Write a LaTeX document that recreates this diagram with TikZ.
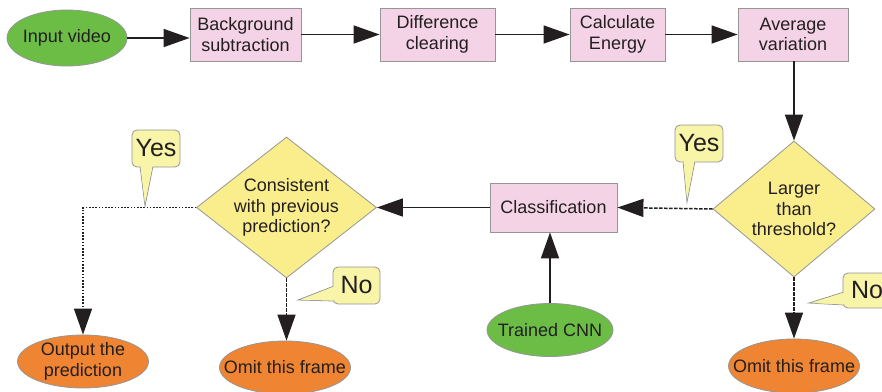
\documentclass[tikz,border=0pt]{standalone}
\usepackage{fontspec}
\setmainfont{Liberation Sans}
\usetikzlibrary{shapes.geometric,arrows.meta}
\definecolor{cgreen}{RGB}{108,189,69}
\definecolor{cpink}{RGB}{243,211,229}
\definecolor{cyell}{RGB}{249,238,139}
\definecolor{corange}{RGB}{239,133,50}
\definecolor{cbub}{RGB}{248,244,168}
\definecolor{cedge}{RGB}{150,150,150}
\definecolor{ctext}{RGB}{35,31,32}
\begin{document}
\begin{tikzpicture}[x=1pt,y=-1pt,
  txt/.style={font=\fontsize{18}{20.5}\selectfont, text=ctext, align=center},
  procbox/.style={draw=cedge, fill=cpink, line width=0.8pt, txt, inner sep=1pt, minimum height=53pt},
  ell/.style={ellipse, draw=cedge, line width=0.8pt, inner sep=0pt},
  dia/.style={diamond, draw=cedge, fill=cyell, line width=0.8pt, inner sep=0pt},
  lab/.style={txt},
  bubble/.style={draw=cedge, fill=cbub, line width=0.8pt, rounded corners=5pt,
     font=\fontsize{25}{25}\selectfont, text=ctext, inner sep=0pt, minimum width=48pt, minimum height=37pt},
  arr/.style={line width=1.5pt, draw=ctext, -{Triangle[length=26pt,width=18pt]}},
  dotl/.style={dash pattern=on 1.6pt off 1.6pt},
  dashl/.style={dash pattern=on 3.5pt off 1.5pt}
]
\useasboundingbox (0,0) rectangle (882,391);
\fill[white] (0,0) rectangle (882,391);

% top row
\node[ell, fill=cgreen, minimum width=120pt, minimum height=56pt, label={[lab]center:Input video}] (input) at (67,38) {};
\node[procbox, minimum width=111pt] (bg) at (245.5,34.5) {Background\\subtraction};
\node[procbox, minimum width=115pt] (diff) at (437.5,34.5) {Difference\\clearing};
\node[procbox, minimum width=95pt] (energy) at (617.5,34.5) {Calculate\\Energy};
\node[procbox, minimum width=110pt] (avg) at (793,34.5) {Average\\variation};

% middle row
\node[dia, minimum width=162pt, minimum height=136pt, label={[lab]center:Larger\\than\\threshold?}] (larger) at (794,209) {};
\node[procbox, minimum width=127pt, minimum height=49pt] (class) at (553.5,207.5) {Classification};
\node[dia, minimum width=180pt, minimum height=141pt, label={[lab]center:Consistent\\with previous\\prediction?}] (cons) at (286.5,207.5) {};

% bottom row
\node[ell, fill=cgreen, minimum width=126pt, minimum height=53pt, label={[lab]center:Trained CNN}] (cnn) at (550,330) {};
\node[ell, fill=corange, minimum width=131pt, minimum height=53pt, label={[lab]center:Output the\\prediction}] (output) at (83,361.5) {};
\node[ell, fill=corange, minimum width=131pt, minimum height=53pt, label={[lab]center:Omit this frame}] (omitL) at (285,367.5) {};
\node[ell, fill=corange, minimum width=131pt, minimum height=54pt, label={[lab]center:Omit this frame}] (omitR) at (794,366) {};

% connectors
\draw[arr] (input.east) -- (input.east -| bg.west);
\draw[arr] (bg) -- (diff);
\draw[arr] (diff) -- (energy);
\draw[arr] (energy) -- (avg);
\draw[arr] (avg.south -| larger.north) -- (larger.north);
\draw[arr, dashl] (larger.west) -- (class.east);
\draw[arr] (class.west) -- (cons.east);
\draw[arr] (cnn.north) -- (cnn.north |- class.south);
\draw[arr, dotl] (cons.west) -| (output.north);
\draw[arr, dashl] (cons.south) -- (cons.south |- omitL.north);
\draw[arr, dashl] (larger.south) -- (larger.south |- omitR.north);

% callouts
% Yes (left)
\filldraw[fill=cbub, draw=cedge, line width=0.8pt] (140,166) -- (145,206) -- (153,166);
\node[bubble] (yesL) at (156,148.5) {Yes};
\fill[cbub] (140.6,166) -- (145,203) -- (152.4,166) -- cycle;
% Yes (right)
\filldraw[fill=cbub, draw=cedge, line width=0.8pt] (683,161) -- (687,202) -- (695,161);
\node[bubble] (yesR) at (699,143.5) {Yes};
\fill[cbub] (683.6,161) -- (687,199) -- (694.4,161) -- cycle;
% No (left)
\filldraw[fill=cbub, draw=cedge, line width=0.8pt] (334,286) -- (298,300) -- (334,301);
\node[bubble, minimum width=47pt] (noL) at (356.5,285.5) {No};
\fill[cbub] (334,286.6) -- (301,299.8) -- (334,300.4) -- cycle;
% No (right)
\filldraw[fill=cbub, draw=cedge, line width=0.8pt] (844,292) -- (809,303) -- (844,305);
\node[bubble, minimum height=35pt] (noR) at (867,290.5) {No};
\fill[cbub] (844,292.6) -- (812,303) -- (844,304.4) -- cycle;
\end{tikzpicture}
\end{document}
